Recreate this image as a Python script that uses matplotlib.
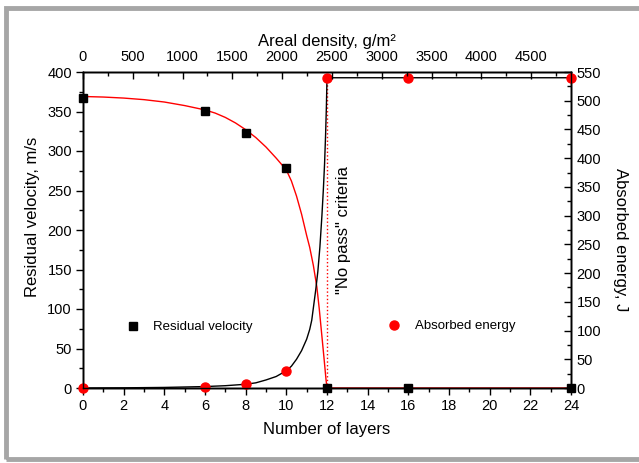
import matplotlib
matplotlib.use("Agg")
import matplotlib.pyplot as plt
from matplotlib.lines import Line2D
from matplotlib.patches import Rectangle
from matplotlib.ticker import MultipleLocator

plt.rcParams['font.family'] = ['Liberation Sans', 'DejaVu Sans']

# ---- data ----
layers = [0, 6, 8, 10, 12, 16, 24]
residual_velocity = [367, 351, 323, 279, 0, 0, 0]
absorbed_energy = [0, 1, 6.5, 30, 540, 540, 540]

# fitted curve for residual velocity
vfit_n = [0, 1, 2, 3, 4, 5, 6, 6.5, 7, 7.5, 8, 8.5, 9, 9.5, 10, 10.25, 10.5, 10.75, 11,
          11.15, 11.33, 11.5, 11.62, 11.74, 11.86, 11.95, 12, 16, 24]
vfit_v = [369, 368.3, 367, 365, 362, 357.5, 352, 348, 342.5, 335.5, 327, 317, 305, 291, 276, 262, 243, 220, 193,
          178, 155, 128, 100, 68, 36, 11, 0, 0, 0]

# fitted curve for absorbed energy
efit_n = [0, 2, 4, 6, 7, 8, 8.5, 9, 9.5, 10, 10.25, 10.5, 10.75, 11, 11.15, 11.25, 11.35, 11.45,
          11.55, 11.65, 11.75, 11.82, 11.88, 11.93, 11.97, 12, 16, 24]
efit_e = [0, 0.3, 1, 2.5, 4, 6.5, 9, 14, 20, 30, 38, 50, 65, 85, 102, 118, 145, 172,
          203, 245, 300, 345, 390, 440, 490, 540, 540, 540]

areal_density_max = 4900
criterion_layers = 12

fig = plt.figure(figsize=(6.39, 4.63), dpi=100)
ax = fig.add_axes([83/639, 1-388/463, 488/639, 316/463])
ax2 = ax.twinx()
ax3 = ax.twiny()

red = '#ff0000'
fs_tick = 10.5
fs_lab = 12

# residual velocity on left axis
ax.plot(vfit_n, vfit_v, color=red, lw=1.0, zorder=2, clip_on=False)
ax.plot(layers, residual_velocity, 's', color='black', ms=6.3, zorder=5, clip_on=False)
ax.plot([criterion_layers, criterion_layers], [0, 400], ':', color=red, lw=1.0, zorder=1)

# absorbed energy on right axis
ax2.plot(efit_n, efit_e, color='black', lw=1.0, zorder=2, clip_on=False)
ax2.plot(layers, absorbed_energy, 'o', color=red, ms=6.5, zorder=6, clip_on=False)

ax.set_xlim(0, 24)
ax.set_ylim(0, 400)
ax2.set_ylim(0, 550)
ax3.set_xlim(0, areal_density_max)

ax.xaxis.set_major_locator(MultipleLocator(2))
ax.xaxis.set_minor_locator(MultipleLocator(1))
ax.yaxis.set_major_locator(MultipleLocator(50))
ax.yaxis.set_minor_locator(MultipleLocator(25))
ax2.yaxis.set_major_locator(MultipleLocator(50))
ax2.yaxis.set_minor_locator(MultipleLocator(25))
ax3.xaxis.set_major_locator(MultipleLocator(500))
ax3.xaxis.set_minor_locator(MultipleLocator(250))

ax.tick_params(axis='both', which='major', direction='out', length=5, width=1, labelsize=fs_tick, pad=3)
ax.tick_params(axis='both', which='minor', direction='out', length=3, width=1)
ax2.tick_params(axis='y', which='major', direction='in', length=5, width=1, labelsize=fs_tick, pad=4)
ax2.tick_params(axis='y', which='minor', direction='in', length=3, width=1)
ax3.tick_params(axis='x', which='major', direction='in', length=5, width=1, labelsize=fs_tick, pad=6)
ax3.tick_params(axis='x', which='minor', direction='in', length=3, width=1)

for a in (ax, ax2, ax3):
    for s in a.spines.values():
        s.set_linewidth(1.0)

ax.set_xlabel('Number of layers', fontsize=fs_lab)
ax.set_ylabel('Residual velocity, m/s', fontsize=fs_lab)
ax2.set_ylabel('Absorbed energy, J', fontsize=fs_lab, rotation=-90)
ax3.set_xlabel('Areal density, g/m\u00b2', fontsize=fs_lab)
ax.xaxis.set_label_coords(0.5, -0.13)
ax.yaxis.set_label_coords(-0.1025, 0.541)
ax2.yaxis.set_label_coords(1.102, 0.468)
ax3.xaxis.set_label_coords(0.5, 1.098)
for lab in (ax.xaxis.label, ax.yaxis.label, ax2.yaxis.label, ax3.xaxis.label):
    lab.set_va('center')
    lab.set_ha('center')

ax.text(12.8, 200, '"No pass" criteria', rotation=90, fontsize=fs_lab,
        ha='center', va='center')

# legends
h1 = Line2D([], [], marker='s', ls='none', color='black', ms=6.3)
h2 = Line2D([], [], marker='o', ls='none', color=red, ms=6.5)
ax.legend([h1], ['Residual velocity'], loc='center left', bbox_to_anchor=(0.0896, 0.193),
          frameon=False, fontsize=9.5, handlelength=1, handletextpad=1.0, borderpad=0, borderaxespad=0)
ax2.legend([h2], ['Absorbed energy'], loc='center left', bbox_to_anchor=(0.624, 0.196),
           frameon=False, fontsize=9.5, handlelength=1, handletextpad=1.1, borderpad=0, borderaxespad=0)

# figure frame
fig.add_artist(Rectangle((5.5/639, 4/463), 1.0, 1 - 8/463 - 4/463, fill=False,
                         edgecolor='#a6a6a6', lw=3.5, transform=fig.transFigure))

fig.savefig('out.png', dpi=100)
